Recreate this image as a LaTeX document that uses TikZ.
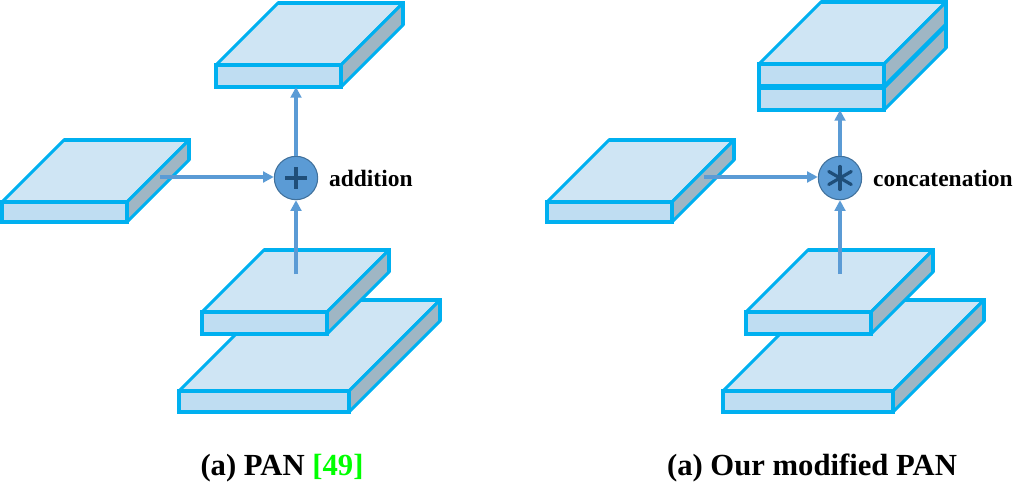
\documentclass[tikz,border=0pt]{standalone}
\usepackage{fontspec}
\setmainfont{Liberation Serif}
\usepackage{xcolor}
\usetikzlibrary{arrows.meta,calc}

\definecolor{slabline}{HTML}{00B0F0}
\definecolor{slabtop}{HTML}{CFE5F4}
\definecolor{slabfront}{HTML}{BFDDF2}
\definecolor{slabside}{HTML}{9FB6C4}
\definecolor{flowblue}{HTML}{5B9BD5}
\definecolor{sumedge}{HTML}{41719C}
\definecolor{signblue}{HTML}{1F4E79}
\definecolor{citegreen}{HTML}{00FF00}

\tikzset{
	front/.style={draw=slabline, fill=slabfront, line width=2.3pt, inner sep=0pt, outer sep=0pt, anchor=north west},
	face/.style={draw=slabline, line width=2.3pt, miter limit=1.5},
	flow/.style={draw=flowblue, line width=3pt, -{Triangle[length=8pt,width=8pt]}},
	sum/.style={draw=sumedge, fill=flowblue, circle, line width=0.8pt, minimum size=32.5pt, inner sep=0pt},
	sign/.style={draw=signblue, line width=2.4pt},
	oplabel/.style={font=\fontsize{17.6}{20}\selectfont\bfseries, anchor=west, inner sep=0pt},
	caption/.style={font=\fontsize{23}{26}\selectfont\bfseries, inner sep=0pt}
}

% name, x, y of the front face, width, height, depth
\newcommand{\slab}[6]{
	\draw[face, fill=slabtop] (#2,#3) -- ++(#6,-#6) -- ++(#4,0) -- ++(-#6,#6) -- cycle;
	\draw[face, fill=slabside] (#2+#4,#3) -- ++(#6,-#6) -- ++(0,#5) -- ++(-#6,#6) -- cycle;
	\draw[face] (#2+#4+#6,#3-#6+#5) -- ++(0,-#5) -- ++(-#4,0);
	\node[front, minimum width=#4*0.75pt, minimum height=#5*0.75pt] (#1) at (#2,#3) {};
}

\begin{document}
\begin{tikzpicture}[x=0.75pt, y=-0.75pt]
	\useasboundingbox (0,0) rectangle (1029,503);

	\begin{scope}
		\slab{abig}{179}{391}{170}{21}{91}
		\slab{amid}{202}{312}{125}{22}{62}
		\slab{aleft}{2}{202}{125}{20}{62}
		\slab{atop}{216}{65}{125}{22}{62}
		\node[sum] (asum) at (296,178) {};
		\draw[sign] ($(asum)+(-11,0)$) -- ($(asum)+(11,0)$);
		\draw[sign] ($(asum)+(0,-11)$) -- ($(asum)+(0,11)$);
		\coordinate (ain) at (160,177);
		\coordinate (alow) at (296,274);
		\draw[flow] (ain) -- (ain -| asum.west);
		\draw[flow] (alow) -- (asum.south);
		\draw[flow] (asum.north) -- (asum |- atop.south);
		\node[oplabel, right=8pt] (aop) at (asum.east) {addition};
		\node[caption] (acap) at (282,468) {(a) PAN \textcolor{citegreen}{[49]}};
	\end{scope}

	\begin{scope}[xshift=408pt]
		\slab{bbig}{179}{391}{170}{21}{91}
		\slab{bmid}{202}{312}{125}{22}{62}
		\slab{bleft}{3}{202}{125}{20}{62}
		\slab{blower}{215}{88}{125}{22}{62}
		\slab{bupper}{215}{64}{125}{22}{62}
		\node[sum] (bsum) at (296,178) {};
		\foreach \a/\r in {90/11.5,30/13,-30/13} {
			\draw[sign, line cap=round] ($(bsum)+(\a:\r)$) -- ($(bsum)+(\a+180:\r)$);
		}
		\coordinate (bin) at (160,177);
		\coordinate (blow) at (296,274);
		\draw[flow] (bin) -- (bin -| bsum.west);
		\draw[flow] (blow) -- (bsum.south);
		\draw[flow] (bsum.north) -- (bsum |- blower.south);
		\node[oplabel, right=8pt] (bop) at (bsum.east) {concatenation};
		\node[caption] (bcap) at (268,468) {(a) Our modified PAN};
	\end{scope}
\end{tikzpicture}
\end{document}
